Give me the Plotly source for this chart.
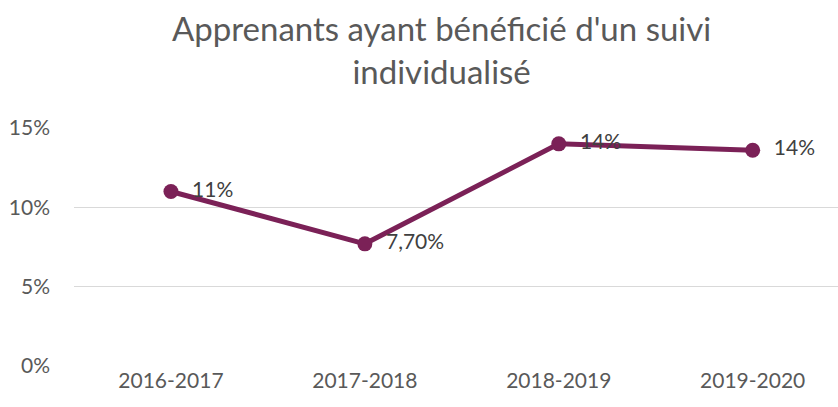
import plotly.graph_objects as go

categories = ["2016-2017", "2017-2018", "2018-2019", "2019-2020"]
values = [0.11, 0.077, 0.14, 0.136]
labels = ["11%", "7,70%", "14%", "14%"]
y_ticks = [0, 0.05, 0.10, 0.15]
title_text = "Apprenants ayant bénéficié d'un suivi<br>individualisé"

FONT = "Lato"
fig = go.Figure()
fig.add_trace(go.Scatter(
    x=categories, y=values, mode="lines+markers+text",
    text=labels, textposition="middle right",
    texttemplate="\u00a0\u00a0%{text}",
    textfont=dict(family=FONT, size=21, color="#404040"),
    line=dict(color="#7B2157", width=5),
    marker=dict(color="#7B2157", size=15),
    cliponaxis=False, showlegend=False,
))
fig.add_annotation(
    text=title_text, xref="paper", yref="paper",
    x=(441 - 74) / 764, y=(366 - 49) / 238,
    xanchor="center", yanchor="middle", showarrow=False,
    font=dict(family=FONT, size=33, color="#595959"),
)
fig.update_layout(
    width=838, height=407,
    margin=dict(l=74, r=0, t=128, b=41),
    paper_bgcolor="white", plot_bgcolor="white",
    xaxis=dict(range=[-0.5, 3.44], showgrid=False, showline=False, ticks="",
               tickfont=dict(family=FONT, size=21, color="#595959")),
    yaxis=dict(range=[0, 0.15], tickvals=y_ticks, tickformat=".0%",
               showgrid=True, gridcolor="#D9D9D9", gridwidth=1,
               zeroline=False, showline=False, ticks="", ticklabelstandoff=23,
               tickfont=dict(family=FONT, size=21, color="#595959")),
)
fig.write_html("out.html", config={"displayModeBar": False},
               post_script="document.body.style.margin='0';")
